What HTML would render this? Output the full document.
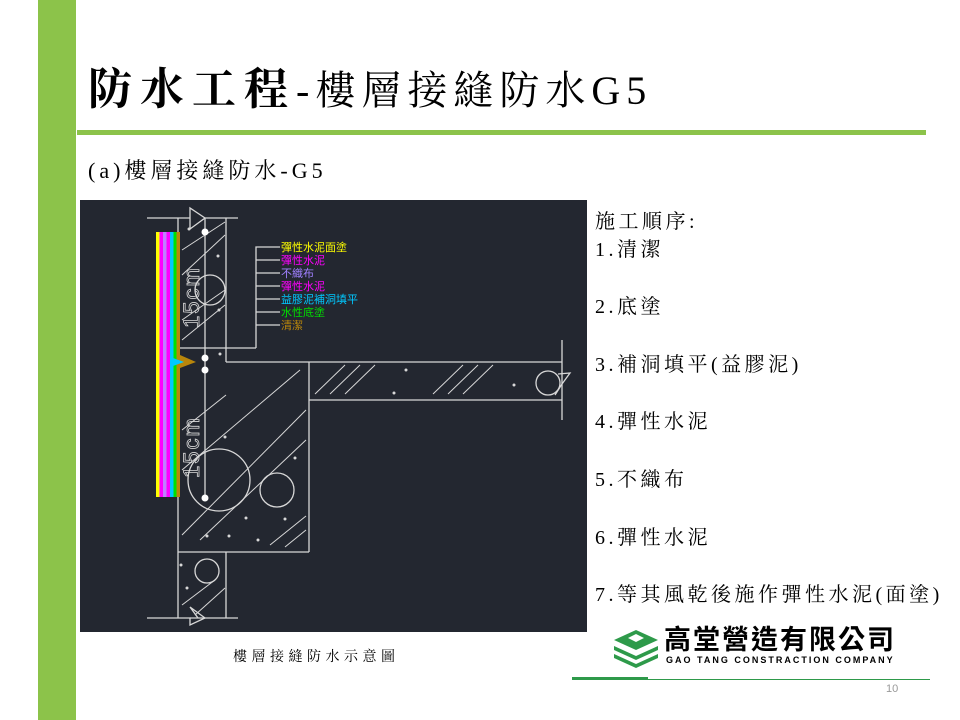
<!DOCTYPE html>
<html><head><meta charset="utf-8"><style>
body{margin:0;width:960px;height:720px;background:#fff;position:relative;overflow:hidden;font-family:"Liberation Serif","Noto Serif CJK SC",serif}
.a{position:absolute;white-space:nowrap}
.l{font-size:20px;line-height:28px;letter-spacing:3.5px}
</style></head><body>
<div class="a" style="left:38px;top:0;width:38px;height:720px;background:#8cc34a"></div>
<div class="a" style="left:77px;top:130px;width:849px;height:5px;background:#8cc34a"></div>
<div class="a" style="left:88px;top:62px;font-size:44px;line-height:56px;font-weight:bold;color:#000;letter-spacing:8px">防水工程<span style="font-weight:normal;font-size:40px;letter-spacing:6px">-樓層接縫防水G5</span></div>
<div class="a" style="left:88px;top:156px;font-size:22px;line-height:30px;color:#000;letter-spacing:4px">(a)樓層接縫防水-G5</div>
<div class="a l" style="left:595px;top:208px">施工順序:</div>
<div class="a l" style="left:595px;top:236px">1.清潔</div>
<div class="a l" style="left:595px;top:293px">2.底塗</div>
<div class="a l" style="left:595px;top:351px">3.補洞填平(益膠泥)</div>
<div class="a l" style="left:595px;top:408px">4.彈性水泥</div>
<div class="a l" style="left:595px;top:466px">5.不織布</div>
<div class="a l" style="left:595px;top:524px">6.彈性水泥</div>
<div class="a l" style="left:595px;top:581px">7.等其風乾後施作彈性水泥(面塗)</div>
<svg class="a" style="left:80px;top:200px" width="507" height="432" viewBox="80 200 507 432">
<rect x="80" y="200" width="507" height="432" fill="#232730"/>
<g stroke="#d8d8d8" stroke-width="1.3" fill="none">
<polyline points="147,218 190,218 190,208 205,218 190,229 190,218"/>
<line x1="205" y1="218" x2="238" y2="218"/>
<line x1="178" y1="218" x2="178" y2="348"/>
<line x1="205" y1="218" x2="205" y2="498"/>
<line x1="226" y1="218" x2="226" y2="362"/>
<line x1="156" y1="348" x2="256" y2="348"/>
<polyline points="256,348 256,247 280,247"/>
<line x1="256" y1="260" x2="280" y2="260"/><line x1="256" y1="273" x2="280" y2="273"/><line x1="256" y1="286" x2="280" y2="286"/><line x1="256" y1="299" x2="280" y2="299"/><line x1="256" y1="312" x2="280" y2="312"/><line x1="256" y1="325" x2="280" y2="325"/>
<line x1="226" y1="362" x2="562" y2="362"/>
<line x1="309" y1="400" x2="562" y2="400"/>
<line x1="309" y1="362" x2="309" y2="552"/>
<line x1="562" y1="340" x2="562" y2="420"/>
<polyline points="555,395 562,384 570,373 558,374"/>
<circle cx="548" cy="383" r="12"/>
<line x1="178" y1="348" x2="178" y2="618"/>
<line x1="178" y1="552" x2="309" y2="552"/>
<line x1="226" y1="552" x2="226" y2="618"/>
<polyline points="147,618 190,618 190,625 205,618 190,607 198,618"/>
<line x1="190" y1="618" x2="238" y2="618"/>
<circle cx="219" cy="480" r="31"/>
<circle cx="277" cy="490" r="17"/>
<circle cx="207" cy="571" r="12"/>
<circle cx="210" cy="290" r="15"/>
<g stroke-width="1">
<line x1="182" y1="250" x2="225" y2="222"/><line x1="182" y1="275" x2="225" y2="235"/><line x1="182" y1="320" x2="225" y2="290"/><line x1="182" y1="340" x2="225" y2="305"/>
<line x1="182" y1="430" x2="226" y2="395"/><line x1="182" y1="470" x2="300" y2="370"/><line x1="182" y1="535" x2="306" y2="410"/><line x1="200" y1="540" x2="306" y2="440"/>
<line x1="270" y1="545" x2="306" y2="516"/><line x1="285" y1="547" x2="306" y2="530"/>
<line x1="182" y1="605" x2="215" y2="580"/><line x1="195" y1="615" x2="225" y2="588"/>
<line x1="315" y1="394" x2="345" y2="365"/><line x1="330" y1="394" x2="360" y2="365"/><line x1="345" y1="394" x2="375" y2="365"/>
<line x1="433" y1="394" x2="463" y2="365"/><line x1="448" y1="394" x2="478" y2="365"/><line x1="463" y1="394" x2="493" y2="365"/>
</g>
</g>
<g fill="#d8d8d8"><circle cx="406" cy="370" r="1.5"/><circle cx="394" cy="393" r="1.5"/><circle cx="514" cy="385" r="1.5"/><circle cx="225" cy="437" r="1.5"/><circle cx="295" cy="458" r="1.5"/><circle cx="246" cy="518" r="1.5"/><circle cx="285" cy="519" r="1.5"/><circle cx="207" cy="536" r="1.5"/><circle cx="229" cy="536" r="1.5"/><circle cx="258" cy="540" r="1.5"/><circle cx="181" cy="565" r="1.5"/><circle cx="187" cy="588" r="1.5"/><circle cx="218" cy="256" r="1.5"/><circle cx="219" cy="310" r="1.5"/><circle cx="220" cy="354" r="1.5"/><circle cx="189" cy="229" r="1.5"/></g>
<rect x="156" y="232" width="3.5" height="265" fill="#ffff00"/>
<rect x="159.5" y="232" width="3.5" height="265" fill="#ff00ff"/>
<rect x="163" y="232" width="3.5" height="265" fill="#c080ff"/>
<rect x="166.5" y="232" width="3.5" height="265" fill="#ff00ff"/>
<rect x="170" y="232" width="3.5" height="265" fill="#00c8ff"/>
<rect x="173.5" y="232" width="3" height="265" fill="#00e000"/>
<rect x="176.5" y="232" width="3.5" height="265" fill="#b8860b"/>
<polygon points="180,355 196,362 180,368" fill="#b8860b"/>
<polygon points="173,358 184,362 173,366" fill="#00c8ff"/>
<g fill="#fff"><circle cx="205" cy="232" r="3.5"/><circle cx="205" cy="358" r="3.5"/><circle cx="205" cy="370" r="3.5"/><circle cx="205" cy="498" r="3.5"/></g>
<g font-family="Liberation Sans" font-size="22" fill="none" stroke="#d8d8d8" stroke-width="0.8" letter-spacing="2">
<text transform="translate(199,328) rotate(-90)">15cm</text>
<text transform="translate(199,478) rotate(-90)">15cm</text>
</g>
<g font-family="'Liberation Sans','Noto Sans CJK TC',sans-serif" font-size="11">
<text x="281" y="251" fill="#ffff00">彈性水泥面塗</text>
<text x="281" y="264" fill="#ff00ff">彈性水泥</text>
<text x="281" y="277" fill="#a080ff">不織布</text>
<text x="281" y="290" fill="#ff00ff">彈性水泥</text>
<text x="281" y="303" fill="#00c8ff">益膠泥補洞填平</text>
<text x="281" y="316" fill="#00e000">水性底塗</text>
<text x="281" y="329" fill="#b8860b">清潔</text>
</g>
</svg>
<div class="a" style="left:233px;top:649px;font-size:14px;line-height:18px;letter-spacing:4.5px">樓層接縫防水示意圖</div>
<svg class="a" style="left:612px;top:628px" width="48" height="40" viewBox="0 0 48 40">
<polygon points="2,12 24,2 46,12 24,22" fill="#2e9a4a"/>
<polygon points="2,18 24,28 46,18 46,22 24,32 2,22" fill="#2e9a4a"/>
<polygon points="2,26 24,36 46,26 46,30 24,40 2,30" fill="#2e9a4a"/>
<polygon points="16,10 24,6 32,10 24,14" fill="#fff"/>
</svg>
<div class="a" style="left:664px;top:624px;font-size:27px;line-height:32px;font-weight:bold;font-family:'Liberation Sans','Noto Sans CJK TC',sans-serif;letter-spacing:2px">高堂營造有限公司</div>
<div class="a" style="left:666px;top:655px;font-size:9px;line-height:11px;font-weight:bold;font-family:'Liberation Sans',sans-serif;letter-spacing:2px">GAO TANG CONSTRACTION COMPANY</div>
<div class="a" style="left:572px;top:677px;width:76px;height:3px;background:#2e9a4a"></div>
<div class="a" style="left:648px;top:679px;width:282px;height:1px;background:#2e9a4a"></div>
<div class="a" style="left:886px;top:683px;font-size:11px;color:#999;font-family:'Liberation Sans',sans-serif">10</div>
</body></html>
